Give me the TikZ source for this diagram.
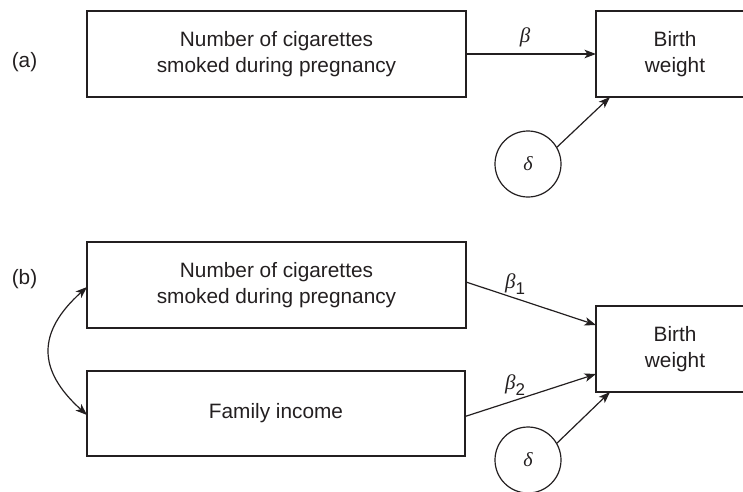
\documentclass[tikz,border=0pt]{standalone}
\usepackage{fontspec}
\setmainfont{Liberation Sans}
\newfontfamily\grk{Liberation Serif}
\usetikzlibrary{arrows.meta}
\definecolor{ink}{HTML}{231F20}
\tikzset{
  box/.style={draw=ink, line width=1.3pt, inner sep=0pt, outer sep=0pt, align=center,
    font=\fontsize{20.8}{26}\selectfont, text=ink},
  errc/.style={draw=ink, line width=1.2pt, circle, minimum size=66pt, inner sep=0pt, outer sep=0pt,
    font=\grk\itshape\fontsize{20}{20}\selectfont, text=ink},
  arr/.style={draw=ink, line width=1.2pt, -{Stealth[length=11.5pt,width=8.5pt,inset=3pt]}},
  darr/.style={draw=ink, line width=1.2pt, {Stealth[length=11.5pt,width=8.5pt,inset=3pt]}-{Stealth[length=11.5pt,width=8.5pt,inset=3pt]}},
  lbl/.style={inner sep=0pt, text=ink, font=\fontsize{20.8}{24}\selectfont},
  coef/.style={inner sep=0pt, text=ink, font=\grk\itshape\fontsize{21}{21}\selectfont}
}
\newcommand{\subn}[1]{\raisebox{-6pt}{\normalfont\fontsize{17}{17}\selectfont #1}}
\begin{document}
\begin{tikzpicture}[x=1pt,y=-1pt]
\useasboundingbox (0,0) rectangle (743,491);
\clip (0,0) rectangle (743,491);
% (a)
\node[lbl] (la) at (24.5,62) {(a)};
\node[box, minimum width=379pt, minimum height=86pt] (sa) at (276.5,54) {Number of cigarettes\\smoked during pregnancy};
\node[box, minimum width=158pt, minimum height=86pt] (bwa) at (675,54) {Birth\\weight};
\node[errc] (da) at (528,164) {δ};
\coordinate (ta) at ([xshift=14pt]bwa.south west);
\draw[arr] (sa.east) -- (bwa.west);
\node[coef] (ba) at (525,37) {β};
\draw[arr] (da.30) -- (ta);
% (b)
\node[lbl] (lb) at (24.5,279) {(b)};
\node[box, minimum width=379pt, minimum height=86pt] (sb) at (276.5,285) {Number of cigarettes\\smoked during pregnancy};
\node[box, minimum width=378pt, minimum height=85pt] (fi) at (276,413.5) {Family income};
\node[box, minimum width=158pt, minimum height=86pt] (bwb) at (675,349) {Birth\\weight};
\node[errc] (db) at (528,460) {δ};
\coordinate (tb) at ([xshift=14pt]bwb.south west);
\draw[arr] ([yshift=3pt]sb.east) -- ([yshift=24pt]bwb.west);
\draw[arr] ([yshift=-3pt]fi.east) -- ([yshift=-25pt]bwb.west);
\draw[arr] (db.30) -- (tb);
\node[coef] (b1) at (515,284) {β\subn{1}};
\node[coef] (b2) at (515,385) {β\subn{2}};
\draw[darr] ([yshift=-2pt]sb.west) .. controls +(-50,45) and +(-50,-45) .. ([yshift=-1.5pt]fi.west);
\end{tikzpicture}
\end{document}
